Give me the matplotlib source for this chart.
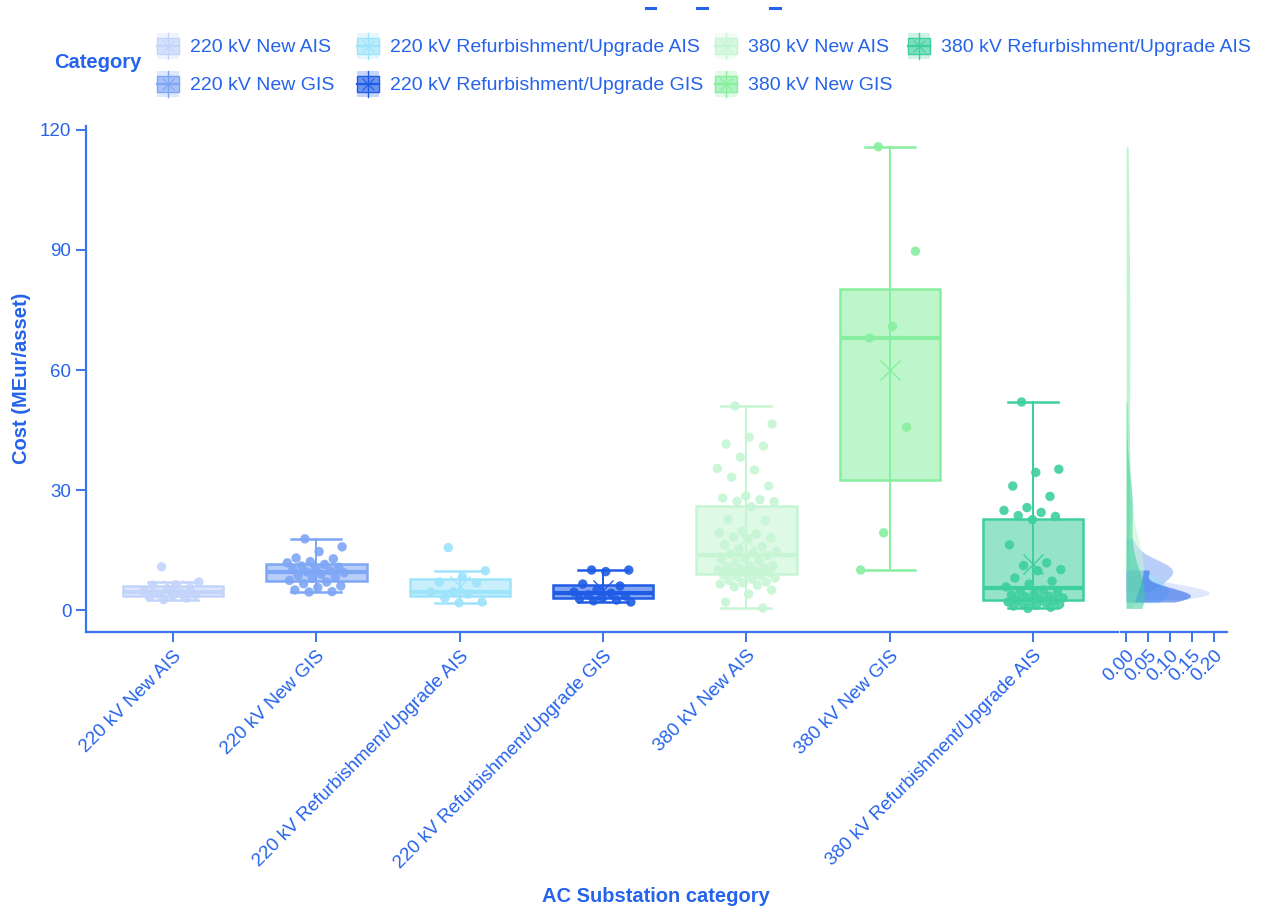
import numpy as np
import matplotlib
matplotlib.use("Agg")
import matplotlib.pyplot as plt
from matplotlib.patches import Rectangle, Patch
from matplotlib.lines import Line2D
from matplotlib.legend_handler import HandlerBase

plt.rcParams['font.family'] = ['Liberation Sans', 'DejaVu Sans']

# ---- data -------------------------------------------------------------
categories = [
    "220 kV New AIS",
    "220 kV New GIS",
    "220 kV Refurbishment/Upgrade AIS",
    "220 kV Refurbishment/Upgrade GIS",
    "380 kV New AIS",
    "380 kV New GIS",
    "380 kV Refurbishment/Upgrade AIS",
]
colors = ['#c3d4fb', '#7fa6f5', '#9de3fa', '#1f5ce6', '#c6f5d4', '#87ef9f', '#3ecf9f']

new_ais_220 = [10.8, 7.0, 6.3, 6.2, 5.5, 5.3, 4.8, 4.3, 4.0, 3.8, 3.5, 3.2, 3.0, 2.6]
new_gis_220 = [17.8, 15.8, 14.6, 13.0, 12.8, 12.1, 11.8, 11.4, 11.0, 10.7, 10.4, 10.1,
               9.8, 9.5, 9.3, 9.0, 8.6, 8.2, 7.9, 7.4, 7.0, 6.6, 6.0, 5.6, 5.0, 4.6, 4.5]
refurb_ais_220 = [15.6, 9.8, 8.3, 7.0, 6.8, 4.5, 4.5, 4.0, 3.0, 2.0, 1.8]
refurb_gis_220 = [10.0, 10.0, 9.6, 6.5, 6.0, 5.0, 4.5, 4.2, 3.8, 3.5, 3.0, 2.8, 2.5, 2.3, 2.0]
new_ais_380 = [51.0, 46.5, 43.2, 41.5, 41.0, 38.2, 35.4, 35.0, 33.2, 31.0, 28.5, 28.0, 27.6, 27.2, 27.1,
               25.8, 22.6, 22.4, 19.6, 19.3, 19.0, 18.3, 18.0, 17.8, 16.3, 15.8, 15.3, 14.6, 14.3, 14.0,
               13.6, 13.0, 12.6, 12.2, 11.8, 11.1, 11.0, 10.8, 10.5, 10.2, 10.0, 9.8, 9.5, 9.3, 9.1,
               8.8, 8.5, 8.2, 8.0, 7.7, 7.4, 7.0, 6.8, 6.5, 6.2, 5.8, 5.0, 4.0, 2.0, 0.5]
new_gis_380 = [115.8, 89.7, 70.9, 68.0, 45.7, 19.3, 10.0]
refurb_ais_380 = [52.0, 35.2, 34.4, 31.0, 28.4, 25.6, 24.9, 24.4, 23.6, 23.4,
                  22.6, 16.3, 11.8, 11.1, 10.1, 9.8, 8.0, 7.2, 6.5, 5.8,
                  5.0, 4.7, 4.4, 4.1, 3.8, 3.5, 3.3, 3.0, 2.8, 2.6,
                  2.4, 2.2, 2.0, 1.8, 1.6, 1.4, 1.2, 1.0, 0.7, 0.4]

series = [new_ais_220, new_gis_220, refurb_ais_220, refurb_gis_220,
          new_ais_380, new_gis_380, refurb_ais_380]

y_ticks = [0, 30, 60, 90, 120]
density_ticks = [0.00, 0.05, 0.10, 0.15, 0.20]

TEXT = '#2563eb'
AXIS = '#3b73f0'
TICK_FS = 13.5
TITLE_FS = 14.5

# ---- figure -----------------------------------------------------------
W, H = 1261, 909
fig = plt.figure(figsize=(W / 100, H / 100), dpi=100)
ax = fig.add_axes([0.0682, 0.3047, 0.8184, 0.5567])
axd = fig.add_axes([0.8890, 0.3047, 0.0841, 0.5567], sharey=ax)

positions = np.arange(len(categories))
bp = ax.boxplot(series, positions=positions, widths=0.7, whis=1.5,
                patch_artist=True, showfliers=False, showmeans=True,
                manage_ticks=False)

for i, col in enumerate(colors):
    box = bp['boxes'][i]
    box.set_facecolor(matplotlib.colors.to_rgba(col, 0.55))
    box.set_edgecolor(col)
    box.set_linewidth(1.8)
    box.set_zorder(2)
    med = bp['medians'][i]
    med.set_color(col)
    med.set_linewidth(3.0)
    med.set_zorder(3)
    for w in bp['whiskers'][2 * i:2 * i + 2]:
        w.set_color(col)
        w.set_linewidth(1.4)
    for c in bp['caps'][2 * i:2 * i + 2]:
        c.set_color(col)
        c.set_linewidth(1.8)
    lo = bp['whiskers'][2 * i].get_ydata()[1]
    hi = bp['whiskers'][2 * i + 1].get_ydata()[1]
    ax.vlines(i, lo, hi, color=col, lw=1.4, zorder=4)
    mn = bp['means'][i]
    mn.set_marker('x')
    mn.set_markersize(14)
    mn.set_markeredgecolor(col)
    mn.set_markeredgewidth(1.0)
    mn.set_zorder(5)

    vals = np.asarray(series[i])
    j = np.arange(len(vals))
    offs = ((j * 0.6180339887 + 0.31) % 1.0 - 0.5) * 0.42
    ax.scatter(i + offs, vals, s=46, color=col, alpha=0.9, edgecolors='none', zorder=6)

ax.set_xlim(-0.607, 6.593)
ax.set_ylim(-5.5, 121)
ax.set_yticks(y_ticks)
ax.set_xticks(positions)
ax.set_xticklabels(categories, rotation=45, ha='right', rotation_mode='anchor')
for s in ['top', 'right']:
    ax.spines[s].set_visible(False)
for s in ['left', 'bottom']:
    ax.spines[s].set_color(AXIS)
    ax.spines[s].set_linewidth(1.6)
ax.tick_params(axis='both', colors=AXIS, labelcolor=TEXT, labelsize=TICK_FS,
               length=7, width=1.4)
ax.tick_params(axis='x', pad=4)

# ---- density panel ----------------------------------------------------
def gaussian_kde(vals, grid):
    vals = np.asarray(vals, float)
    n = len(vals)
    bw = vals.std(ddof=1) * n ** (-1 / 5)
    z = (grid[:, None] - vals[None, :]) / bw
    return np.exp(-0.5 * z ** 2).sum(axis=1) / (n * bw * np.sqrt(2 * np.pi))

for vals, col in zip(series, colors):
    grid = np.linspace(min(vals), max(vals), 300)
    dens = gaussian_kde(vals, grid)
    axd.fill_betweenx(grid, 0, dens, color=col, alpha=0.55, lw=0)

axd.set_xlim(-0.0116, 0.23)
axd.set_xticks(density_ticks)
axd.set_xticklabels([f"{t:.2f}" for t in density_ticks], rotation=45,
                    ha='right', rotation_mode='anchor')
for s in ['top', 'right', 'left']:
    axd.spines[s].set_visible(False)
axd.spines['bottom'].set_color(AXIS)
axd.spines['bottom'].set_linewidth(1.6)
axd.tick_params(axis='x', colors=AXIS, labelcolor=TEXT, labelsize=TICK_FS,
                length=7, width=1.4)
axd.tick_params(axis='y', left=False, labelleft=False)

# ---- axis titles ------------------------------------------------------
fig.text(22 / W, 1 - 378 / H, "Cost (MEur/asset)", rotation=90,
         ha='center', va='center', color=TEXT, fontsize=TITLE_FS, fontweight='bold')
fig.text(656 / W, 1 - 897 / H, "AC Substation category",
         ha='center', va='center', color=TEXT, fontsize=TITLE_FS, fontweight='bold')

# ---- legend -----------------------------------------------------------
class BoxHandle(HandlerBase):
    def create_artists(self, legend, orig_handle, xdescent, ydescent,
                       width, height, fontsize, trans):
        col = orig_handle.get_edgecolor()
        x0, y0 = -xdescent, -ydescent
        cx = x0 + width / 2
        bg = Rectangle((x0, y0), width, height,
                       facecolor=matplotlib.colors.to_rgba(col, 0.25),
                       edgecolor='none', transform=trans)
        rect = Rectangle((x0, y0 + 0.2 * height), width, 0.6 * height,
                         facecolor=matplotlib.colors.to_rgba(col, 0.55),
                         edgecolor=col, lw=1.0, transform=trans)
        vline = Line2D([cx, cx], [y0, y0 + height], color=col, lw=1.0, transform=trans)
        hline = Line2D([x0, x0 + width], [y0 + 0.5 * height] * 2, color=col,
                       lw=1.6, transform=trans)
        cross = Line2D([cx], [y0 + 0.5 * height], marker='x', ms=8, mew=0.8,
                       color=col, lw=0, transform=trans)
        return [bg, rect, vline, hline, cross]

# legend laid out as four columns, each of up to two entries
column_left = [147, 347, 705, 898]
for k, x_left in enumerate(column_left):
    idx = [i for i in (2 * k, 2 * k + 1) if i < len(categories)]
    hs = [Patch(facecolor=colors[i], edgecolor=colors[i]) for i in idx]
    leg = fig.legend(hs, [categories[i] for i in idx], loc='upper left',
                     bbox_to_anchor=(x_left / W, 1 - 23 / H), frameon=False,
                     fontsize=14, handlelength=1.15, handleheight=1.7,
                     handletextpad=0.55, labelspacing=0.62, borderpad=0,
                     handler_map={Patch: BoxHandle()})
    for t in leg.get_texts():
        t.set_color(TEXT)

fig.text(98 / W, 1 - 63 / H, "Category", ha='center', va='center',
         color=TEXT, fontsize=TITLE_FS, fontweight='bold')

# small marks along the top edge
for x0, x1 in [(646, 655), (697, 707), (770, 780)]:
    fig.add_artist(Line2D([x0 / W, x1 / W], [1 - 8 / H] * 2,
                          color=TEXT, lw=2.2, transform=fig.transFigure))

fig.savefig("out.png", dpi=100, facecolor='white')
